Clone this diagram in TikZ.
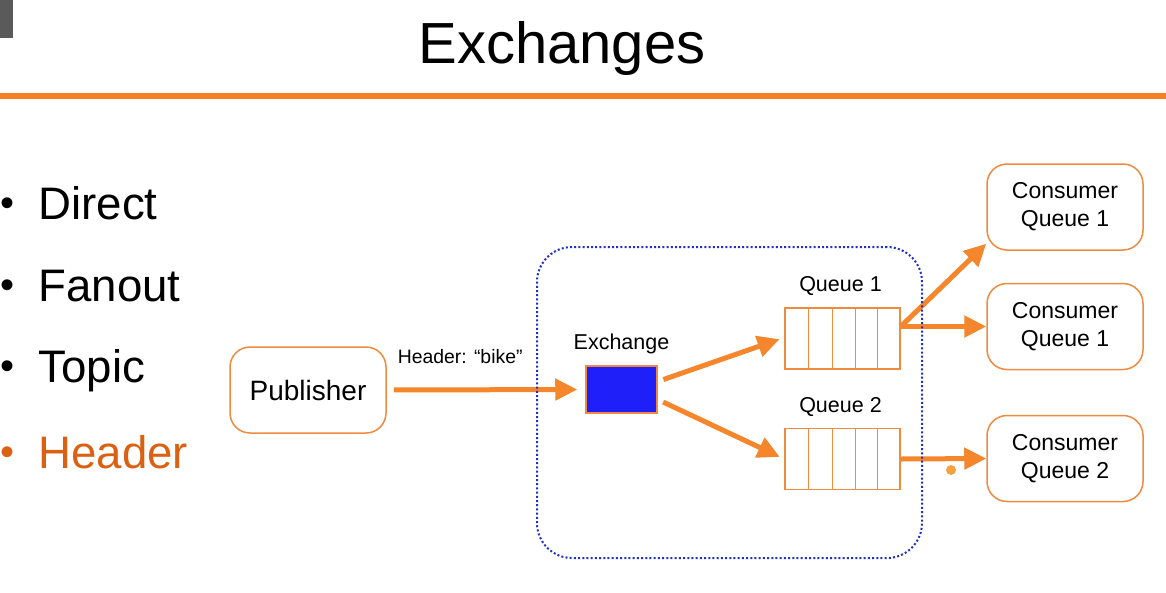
\documentclass[tikz,border=0pt]{standalone}
\usepackage{fontspec}
\setmainfont{Liberation Sans}
\usepackage{tikz}
\usetikzlibrary{arrows.meta, positioning}
\definecolor{slideOrange}{HTML}{F47F24}
\definecolor{boxOrange}{HTML}{EE8B40}
\definecolor{arrowOrange}{HTML}{F5862C}
\definecolor{headerOrange}{HTML}{DA6112}
\definecolor{exchBlue}{HTML}{1F1FFA}
\definecolor{dotBlue}{HTML}{2030C0}
\definecolor{barGrey}{HTML}{5A5A5A}
\definecolor{dotOrange}{HTML}{F6A243}

\begin{document}
\begin{tikzpicture} [x=1pt, y=-1pt,
    roundBox/.style={rectangle, rounded corners=20pt, draw=boxOrange, line width=1.5pt, fill=white, minimum width=156pt, minimum height=86pt, align=center, font=\fontsize{23}{28}\selectfont},
    queueBox/.style={rectangle, draw=boxOrange, line width=1.5pt, fill=white, minimum width=115pt, minimum height=61pt, inner sep=0pt},
    exchBox/.style={rectangle, draw=boxOrange, line width=1.5pt, fill=exchBlue, minimum width=71pt, minimum height=47pt, inner sep=0pt},
    brokerBox/.style={rectangle, rounded corners=35pt, draw=dotBlue, line width=2pt, dash pattern=on 2pt off 2.2pt, minimum width=385pt, minimum height=311pt},
    smallText/.style={font=\fontsize{21.5}{25}\selectfont},
    listText/.style={anchor=base west, font=\fontsize{45.6}{50}\selectfont},
    listDot/.style={anchor=base, font=\fontsize{40}{50}\selectfont},
    cellLine/.style={draw=boxOrange, line width=1.5pt},
    arrow/.style={line width=5pt, draw=arrowOrange, -{Triangle[length=22pt, width=21pt]}}
]
    % slide frame
    \useasboundingbox (0,0) rectangle (1166,592);
    \fill[barGrey] (0,0) rectangle (13,38);
    \node[anchor=base, font=\fontsize{58}{64}\selectfont] (title) at (562,63) {Exchanges};
    \fill[slideOrange] (0,93) rectangle (1166,99);

    % exchange types
    \node[listDot] (d1) at (8,216) {•};
    \node[listText] (direct) at (35,219) {Direct};
    \node[listDot] (d2) at (8,298) {•};
    \node[listText] (fanout) at (35,301) {Fanout};
    \node[listDot] (d3) at (8,379) {•};
    \node[listText] (topic) at (35,382) {Topic};
    \node[listDot, text=headerOrange] (d4) at (8,465) {•};
    \node[listText, text=headerOrange] (header) at (35,468) {Header};

    \node[roundBox, font=\fontsize{28}{32}\selectfont] (Pub) at (308,390) {Publisher};
    \node[exchBox] (Ex) at (621.5,389.5) {};
    \node[smallText, above=8pt of Ex] (ExLabel) {Exchange};
    \node[queueBox] (Q1) at (842.5,338.5) {};
    \node[smallText, above=8pt of Q1, xshift=-2pt] (Q1Label) {Queue 1};
    \node[queueBox] (Q2) at (842.5,459) {};
    \node[smallText, above=8pt of Q2, xshift=-2pt] (Q2Label) {Queue 2};
    \foreach \x in {24,48,71,93} {
        \draw[cellLine] ([xshift=\x pt]Q1.north west) -- ([xshift=\x pt]Q1.south west);
        \draw[cellLine] ([xshift=\x pt]Q2.north west) -- ([xshift=\x pt]Q2.south west);
    }
    \node[roundBox] (C1) at (1065,207) {Consumer\\Queue 1};
    \node[roundBox] (C2) at (1065,326.5) {Consumer\\Queue 1};
    \node[roundBox] (C3) at (1065,458.5) {Consumer\\Queue 2};

    \draw [arrow, shorten <=7pt, shorten >=8pt] (Pub.east) -- node[font=\fontsize{19.4}{23}\selectfont, above=20pt, pos=0.37] {Header: “bike”} (Ex.west);
    \draw [arrow, shorten <=6pt, shorten >=5pt] ([yshift=8pt]Ex.east) -- ([yshift=1pt]Q1.west);
    \draw [arrow, shorten <=6pt, shorten >=5pt] ([yshift=-10pt]Ex.east) -- (Q2.west);
    \draw [arrow] (Q1.east |- C2.west) -- (C2.west);
    \draw [arrow] (Q1.east |- C2.west) -- ([yshift=7pt]C1.south west);
    \draw [arrow] (Q2.east) -- (C3.west);
    \fill[dotOrange] (951,470) circle (5pt);

    % broker frame on top
    \node[brokerBox] (Broker) at (729.5,402.5) {};
\end{tikzpicture}
\end{document}
